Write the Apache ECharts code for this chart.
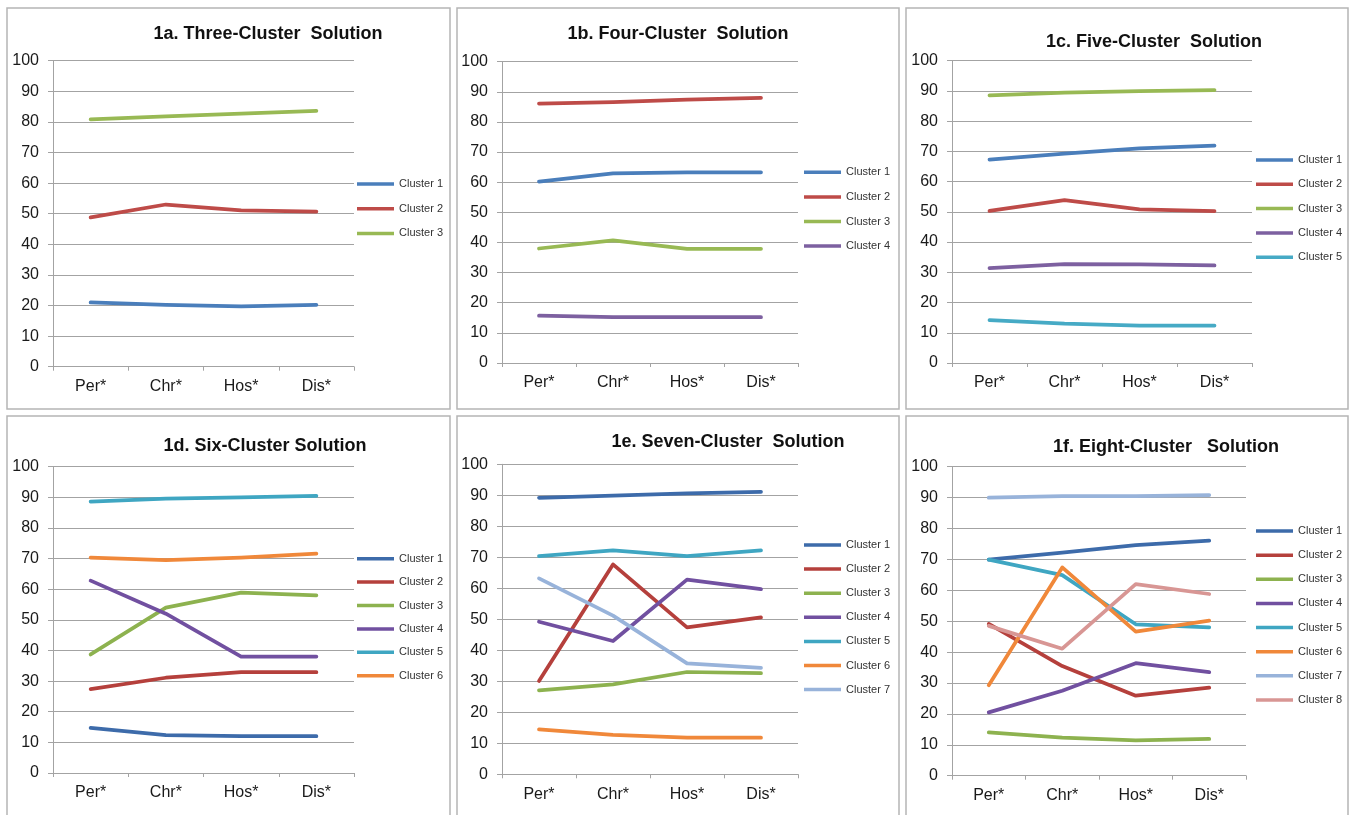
<!DOCTYPE html>
<html>
<head>
<meta charset="utf-8">
<script src="https://cdn.jsdelivr.net/npm/echarts@6/dist/echarts.min.js"></script>
<style>
html,body{margin:0;padding:0;background:#fff;}
#c{width:1353px;height:815px;}
</style>
</head>
<body>
<div id="c"></div>
<script>
// ---- data ----
const categories = ['Per*', 'Chr*', 'Hos*', 'Dis*'];
const yMin = 0, yMax = 100, yStep = 10;
const titles = [
  '1a. Three-Cluster  Solution',
  '1b. Four-Cluster  Solution',
  '1c. Five-Cluster  Solution',
  '1d. Six-Cluster Solution',
  '1e. Seven-Cluster  Solution',
  '1f. Eight-Cluster   Solution'
];
const sol3 = [
  [21.0, 20.2, 19.7, 20.2],
  [48.8, 53.0, 51.1, 50.7],
  [80.8, 81.8, 82.7, 83.6]
];
const sol4 = [
  [60.2, 62.9, 63.3, 63.3],
  [86.1, 86.6, 87.4, 88.0],
  [38.0, 40.7, 37.9, 37.9],
  [15.7, 15.2, 15.2, 15.2]
];
const sol5 = [
  [67.3, 69.3, 71.0, 71.9],
  [50.3, 53.9, 50.8, 50.2],
  [88.5, 89.4, 89.9, 90.3],
  [31.4, 32.7, 32.6, 32.3],
  [14.2, 13.0, 12.4, 12.4]
];
const sol6 = [
  [14.7, 12.4, 12.0, 12.0],
  [27.4, 31.1, 32.9, 32.9],
  [38.7, 54.0, 58.9, 58.0],
  [62.8, 52.0, 38.0, 38.0],
  [88.6, 89.6, 90.0, 90.5],
  [70.3, 69.5, 70.3, 71.6]
];
const sol7 = [
  [89.2, 89.9, 90.6, 91.1],
  [30.1, 67.7, 47.4, 50.6],
  [27.1, 29.0, 33.0, 32.6],
  [49.2, 43.0, 62.8, 59.7],
  [70.4, 72.2, 70.4, 72.2],
  [14.5, 12.7, 11.8, 11.8],
  [63.2, 51.2, 35.8, 34.3]
];
const sol8 = [
  [69.9, 72.2, 74.6, 76.1],
  [49.1, 35.5, 25.9, 28.5],
  [14.0, 12.3, 11.4, 11.9],
  [20.5, 27.5, 36.4, 33.5],
  [69.9, 64.9, 49.0, 48.0],
  [29.3, 67.4, 46.6, 50.2],
  [90.0, 90.5, 90.5, 90.8],
  [48.5, 41.1, 62.0, 58.8]
];
const solutions = [sol3, sol4, sol5, sol6, sol7, sol8];

// ---- styling / layout ----
const paletteTop = ['#4A7EBB', '#BE4B48', '#98B954', '#7D60A0', '#46AAC5'];
const paletteBottom = ['#3D6BAA', '#B5403C', '#8DB24F', '#7150A0', '#3FA6C2', '#F0883A', '#98B3DA', '#D89694'];
const FONT = '"Liberation Sans", Arial, sans-serif';
const GRID_COLOR = '#A3A3A3';

// legend: first row centre y and row pitch
const panels = [
  {box:[7, 8, 443, 401],   grid:{left:53,  top:60.7,  width:301, height:306},   title:[268, 34],   legend:{left:357,  row0:184,   pitch:24.7}},
  {box:[457, 8, 442, 401], grid:{left:502, top:61.7,  width:296, height:301.3}, title:[678, 34],   legend:{left:804,  row0:172.3, pitch:24.6}},
  {box:[906, 8, 442, 401], grid:{left:952, top:60.7,  width:300, height:302.3}, title:[1154, 42],  legend:{left:1256, row0:160,   pitch:24.3}},
  {box:[7, 416, 443, 410], grid:{left:53,  top:466.7, width:301, height:306.3}, title:[265, 446],  legend:{left:357,  row0:558.7, pitch:23.4}},
  {box:[457, 416, 442, 410], grid:{left:502, top:464.3, width:296, height:310}, title:[728, 442],  legend:{left:804,  row0:545,   pitch:24.1}},
  {box:[906, 416, 442, 410], grid:{left:952, top:466.7, width:294, height:309}, title:[1166, 447], legend:{left:1256, row0:531,   pitch:24.14}}
];

const ICON_H = 3.5, TEXT_H = 11;
const grid = [], xAxis = [], yAxis = [], series = [], legend = [], graphic = [];
panels.forEach((p, i) => {
  grid.push(Object.assign({containLabel:false}, p.grid));
  xAxis.push({
    type:'category', gridIndex:i, data:categories, boundaryGap:true,
    axisLine:{lineStyle:{color:GRID_COLOR, width:1}},
    axisTick:{show:true, interval:0, length:4, lineStyle:{color:GRID_COLOR}},
    axisLabel:{interval:0, margin:12, fontSize:16, fontFamily:FONT, color:'#1a1a1a'}
  });
  yAxis.push({
    type:'value', gridIndex:i, min:yMin, max:yMax, interval:yStep,
    axisLine:{show:true, lineStyle:{color:GRID_COLOR, width:1}},
    axisTick:{show:true, length:5, lineStyle:{color:GRID_COLOR}},
    splitLine:{show:true, lineStyle:{color:GRID_COLOR, width:1}},
    axisLabel:{margin:14, fontSize:16, fontFamily:FONT, color:'#1a1a1a'}
  });
  const pal = i < 3 ? paletteTop : paletteBottom;
  const names = [];
  solutions[i].forEach((vals, k) => {
    const nm = 'p' + i + '|Cluster ' + (k + 1);
    names.push(nm);
    series.push({
      type:'line', name:nm, xAxisIndex:i, yAxisIndex:i, data:vals,
      symbol:'none', showSymbol:false, smooth:false,
      color:pal[k],
      lineStyle:{color:pal[k], width:3.75, cap:'round', join:'round'},
      emphasis:{disabled:true}, silent:true, animation:false
    });
  });
  legend.push({
    orient:'vertical', left:p.legend.left, top:p.legend.row0 - TEXT_H / 2,
    itemGap:p.legend.pitch - TEXT_H,
    icon:'rect', itemWidth:37, itemHeight:ICON_H, selectedMode:false, data:names, padding:0,
    formatter:(n) => n.split('|')[1],
    textStyle:{fontSize:11, fontFamily:FONT, color:'#333'}
  });
  graphic.push({
    type:'rect', silent:true, z:-10,
    shape:{x:p.box[0], y:p.box[1], width:p.box[2], height:p.box[3]},
    style:{fill:'#fff', stroke:'#B5B5B5', lineWidth:1.5}
  });
  graphic.push({
    type:'text', silent:true, x:p.title[0], y:p.title[1],
    style:{text:titles[i], fontSize:18, fontWeight:'bold', fontFamily:FONT, fill:'#111', align:'center', verticalAlign:'middle'}
  });
});

const chart = echarts.init(document.getElementById('c'), null, {renderer:'canvas'});
chart.setOption({
  backgroundColor:'#fff',
  animation:false,
  grid, xAxis, yAxis, series, legend, graphic
});
</script>
</body>
</html>
